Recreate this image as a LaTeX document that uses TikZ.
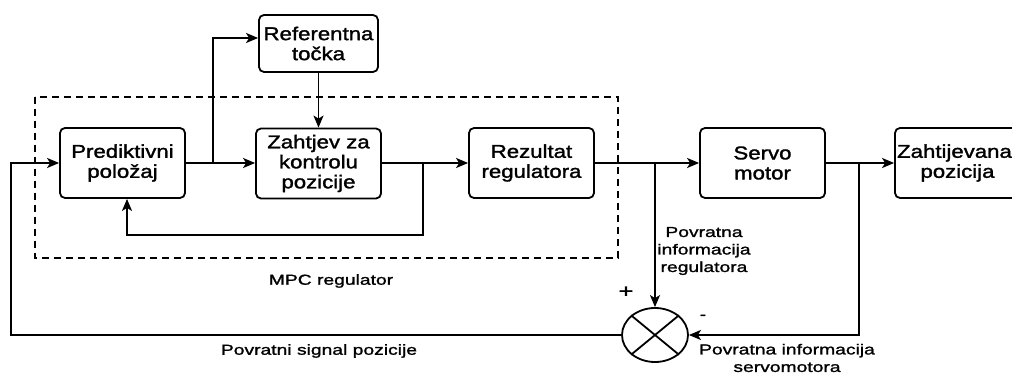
\documentclass[tikz,border=0pt]{standalone}
\usepackage{fontspec}
\setmainfont{Liberation Sans}
\newfontfamily\boxfont[FakeStretch=1.2,FakeBold=1.6]{Liberation Sans}
\newfontfamily\lblfont[FakeStretch=1.33,FakeBold=1.4]{Liberation Sans}
\usetikzlibrary{arrows.meta,shapes.geometric,calc}
\begin{document}
\begin{tikzpicture}[x=1pt,y=-1pt,
  blk/.style={draw,line width=1.8pt,rounded corners=5pt,minimum width=125pt,minimum height=70pt,inner sep=0pt,align=center,font=\boxfont\fontsize{18.5}{20}\selectfont},
  lbl/.style={inner sep=0pt,align=center,font=\lblfont\fontsize{14.5}{17.5}\selectfont},
  arr/.style={line width=1.8pt,-{Stealth[length=12pt,width=10pt,inset=3pt]}},
  ln/.style={line width=1.8pt},
  mpcbox/.style={line width=1.8pt,dash pattern=on 7pt off 5pt}]
\useasboundingbox (0,0) rectangle (1012,374);
\node[blk,minimum width=119pt,minimum height=57pt] (ref) at (318.5,43.5) {Referentna\\točka};
\node[blk] (pred) at (122.5,163) {Prediktivni\\položaj};
\node[blk] (zah) at (318.5,163.5) {Zahtjev za\\kontrolu\\pozicije};
\node[blk] (rez) at (531.5,163) {Rezultat\\regulatora};
\node[blk] (servo) at (762.5,163) {Servo\\motor};
\node[blk,text width=125pt] (out) at (957.5,163) {\hspace*{-6pt}Zahtijevana\\pozicija};
\node[draw,ellipse,minimum width=66pt,minimum height=54pt,line width=1.8pt,inner sep=0pt] (sum) at (655,335) {};
\draw[ln] (sum.north west) -- (sum.south east) (sum.north east) -- (sum.south west);
\draw[mpcbox] (35,97) rectangle (618,258);
\coordinate (j1) at (213,163);
\coordinate (j2) at (423,163);
\coordinate (j3) at (655,163);
\coordinate (j4) at (859,163);
\coordinate (lft) at (11,335);
\coordinate (fb) at (127,235);
\draw[arr] (pred.east) -- (zah.west |- pred.east);
\draw[arr] (j1) |- ([yshift=5.5pt]ref.west);
\draw[arr] (ref) -- (zah);
\draw[arr] (zah.east |- j2) -- (rez.west |- j2);
\draw[arr] (j2) |- (fb) -- (fb |- pred.south);
\draw[arr] (rez) -- (servo);
\draw[arr] (j3) -- (sum.north);
\draw[arr] (servo) -- (out);
\draw[arr] (j4) |- (sum.east);
\draw[arr] (sum.west) -- (lft) |- (pred.west);
\node[lbl] (mpc) at (331,281) {MPC regulator};
\node[lbl] (psig) at (319,351) {Povratni signal pozicije};
\node[lbl] (preg) at (704,251) {Povratna\\informacija\\regulatora};
\node[lbl,font=\lblfont\fontsize{19}{20}\selectfont] (plus) at (626,292) {+};
\node[lbl] (minus) at (703,317) {-};
\node[lbl] (pserv) at (787,358) {Povratna informacija\\servomotora};
\end{tikzpicture}
\end{document}
